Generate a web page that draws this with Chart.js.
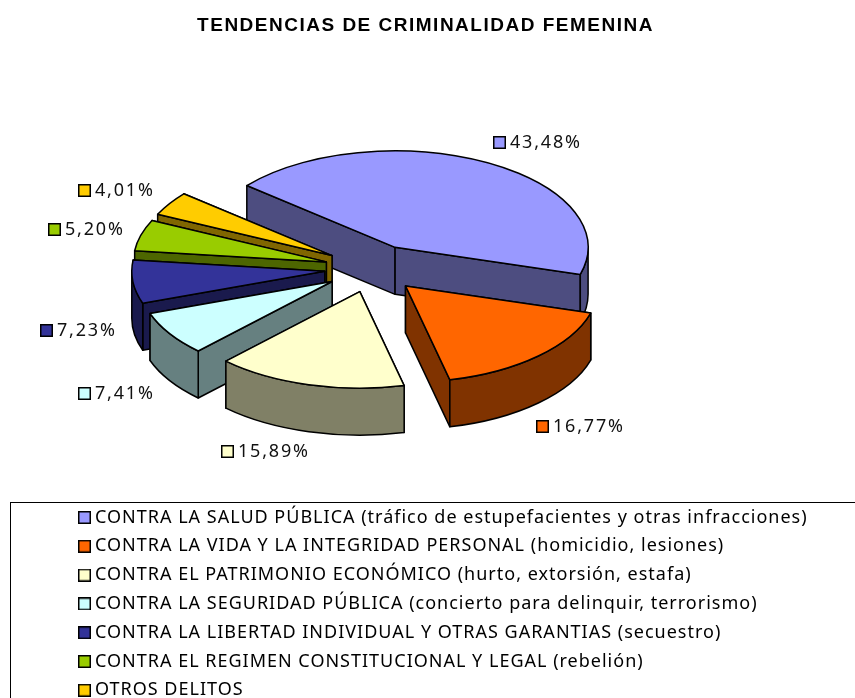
<!DOCTYPE html>
<html>
<head>
<meta charset="utf-8">
<style>html,body{margin:0;padding:0;background:#fff;overflow:hidden}canvas{display:block}</style>
<script src="https://cdn.jsdelivr.net/npm/chart.js@4/dist/chart.umd.js"></script>
</head>
<body>
<div style="width:855px;height:698px"><canvas id="c"></canvas></div>
<script>
const titleText = 'TENDENCIAS DE CRIMINALIDAD FEMENINA';
const categories = [
  'CONTRA LA SALUD PÚBLICA (tráfico de estupefacientes y otras infracciones)',
  'CONTRA LA VIDA Y LA INTEGRIDAD PERSONAL (homicidio, lesiones)',
  'CONTRA EL PATRIMONIO ECONÓMICO (hurto, extorsión, estafa)',
  'CONTRA LA SEGURIDAD PÚBLICA (concierto para delinquir, terrorismo)',
  'CONTRA LA LIBERTAD INDIVIDUAL Y OTRAS GARANTIAS (secuestro)',
  'CONTRA EL REGIMEN CONSTITUCIONAL Y LEGAL (rebelión)',
  'OTROS DELITOS'
];
const values = [43.48, 16.77, 15.89, 7.41, 7.23, 5.20, 4.01];
const topColors = ['#9999ff', '#ff6600', '#ffffcc', '#ccffff', '#333399', '#99cc00', '#ffcc00'];
const sideColors = ['#4d4d80', '#803300', '#808066', '#668080', '#1a1a4d', '#4d6600', '#806600'];
// where each value label's key square sits (left edge, vertical centre)
const labelSpots = [[493, 142], [536, 426], [221, 451], [78, 393], [40, 330], [48, 229], [78, 190]];

const FONT = '"Noto Sans", sans-serif';
const SIZE = 18;
const SQUASH = 0.5, DEPTH = 47, RADIUS = 193, PULL = 48;

function keyCanvas(color) {
  const c = document.createElement('canvas');
  c.width = 13; c.height = 13;
  const g = c.getContext('2d');
  g.fillStyle = color; g.fillRect(0, 0, 13, 13);
  g.strokeStyle = '#000'; g.lineWidth = 1.5; g.strokeRect(.75, .75, 11.5, 11.5);
  return c;
}

function spaced(box, spacing) {
  if (box._spaced) return;
  const draw = box.draw;
  box.draw = function (area) {
    this.ctx.letterSpacing = spacing;
    draw.call(this, area);
    this.ctx.letterSpacing = '0px';
  };
  box._spaced = true;
}

const pie3d = {
  id: 'pie3d',
  beforeDraw(chart) {
    const ctx = chart.ctx;
    ctx.save();
    ctx.strokeStyle = '#000'; ctx.lineWidth = 1;
    ctx.strokeRect(10.5, 502.5, 900, 300);
    ctx.restore();
  },
  afterLayout(chart) {
    const t = chart.titleBlock;
    t.left = 0; t.right = 851;
    spaced(t, '1.5px');
    const l = chart.legend;
    spaced(l, '1px');
    const w = l.right - l.left, h = l.bottom - l.top;
    l.left = 72.2; l.right = l.left + w; l.top = 497.7; l.bottom = l.top + h;
  },
  beforeDatasetDraw(chart, args) {
    const ctx = chart.ctx;
    const items = args.meta.data.map((arc, i) => {
      const mid = (arc.startAngle + arc.endAngle) / 2;
      return {
        arc, i,
        dx: Math.cos(mid) * PULL,
        dy: Math.sin(mid) * PULL * SQUASH
      };
    });
    // painter's order: farthest slice first
    items.sort((a, b) => a.dy - b.dy);
    ctx.save();
    ctx.lineWidth = 1.5; ctx.strokeStyle = '#000'; ctx.lineJoin = 'round';
    items.forEach(({arc, i, dx, dy}) => {
      const ax = arc.x + dx, ay = arc.y + dy;
      const R = arc.outerRadius, s = arc.startAngle, e = arc.endAngle;
      const ry = R * SQUASH;
      const corner = a => [ax + R * Math.cos(a), ay + ry * Math.sin(a)];
      ctx.fillStyle = sideColors[i];
      // cut faces, the one further back first
      [s, e].map(corner).sort((p, q) => p[1] - q[1]).forEach(p => {
        ctx.beginPath();
        ctx.moveTo(ax, ay);
        ctx.lineTo(p[0], p[1]);
        ctx.lineTo(p[0], p[1] + DEPTH);
        ctx.lineTo(ax, ay + DEPTH);
        ctx.closePath();
        ctx.fill(); ctx.stroke();
      });
      // outer rim: only the front half of the ellipse
      const TAU = Math.PI * 2;
      [0, TAU].forEach(base => {
        const a0 = Math.max(s, base), a1 = Math.min(e, base + Math.PI);
        if (a1 <= a0) return;
        ctx.beginPath();
        ctx.ellipse(ax, ay, R, ry, 0, a0, a1);
        ctx.ellipse(ax, ay + DEPTH, R, ry, 0, a1, a0, true);
        ctx.closePath();
        ctx.fill(); ctx.stroke();
      });
      // top face, drawn by the library's arc element under a vertical squash
      ctx.save();
      ctx.translate(ax, ay);
      ctx.scale(1, SQUASH);
      ctx.translate(-arc.x, -arc.y);
      arc.draw(ctx);
      ctx.restore();
      ctx.beginPath();
      ctx.moveTo(ax, ay);
      ctx.ellipse(ax, ay, R, ry, 0, s, e);
      ctx.closePath();
      ctx.stroke();
    });
    ctx.restore();
    return false;
  },
  afterDraw(chart) {
    const ctx = chart.ctx;
    ctx.save();
    ctx.font = SIZE + 'px ' + FONT;
    ctx.letterSpacing = '1.8px';
    ctx.fillStyle = '#111';
    ctx.textBaseline = 'middle';
    values.forEach((v, i) => {
      const [x, y] = labelSpots[i];
      ctx.drawImage(keyCanvas(topColors[i]), x, y - 6);
      ctx.fillText(v.toFixed(2).replace('.', ',') + '%', x + 17, y + 1);
    });
    ctx.restore();
  }
};

new Chart(document.getElementById('c'), {
  type: 'pie',
  data: {
    labels: categories,
    datasets: [{
      data: values,
      backgroundColor: topColors,
      borderColor: '#000',
      borderWidth: 0,
      radius: RADIUS
    }]
  },
  plugins: [pie3d],
  options: {
    responsive: true,
    maintainAspectRatio: false,
    animation: false,
    rotation: -50.2,
    layout: { padding: { right: 110, bottom: 198.2 } },
    plugins: {
      tooltip: { enabled: false },
      title: {
        display: true,
        text: titleText,
        color: '#000',
        font: { family: '"Liberation Sans", Arial, sans-serif', size: 19, weight: 'bold' },
        padding: { top: 14.4, bottom: 0 }
      },
      legend: {
        position: 'chartArea',
        align: 'start',
        labels: {
          color: '#111',
          font: { family: FONT, size: SIZE },
          padding: 10.8,
          usePointStyle: true,
          pointStyleWidth: 3,
          boxHeight: 12,
          generateLabels() {
            return categories.map((text, i) => ({
              text, index: i, hidden: false, lineWidth: 0,
              fillStyle: topColors[i], strokeStyle: '#000',
              pointStyle: keyCanvas(topColors[i])
            }));
          }
        }
      }
    }
  }
});
</script>
</body>
</html>
